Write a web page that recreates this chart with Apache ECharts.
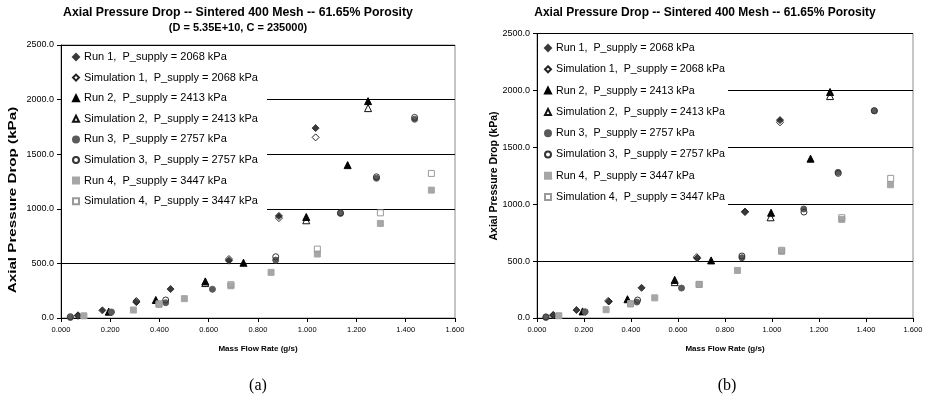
<!DOCTYPE html>
<html><head><meta charset="utf-8">
<script src="https://cdn.jsdelivr.net/npm/echarts@6/dist/echarts.min.js"></script>
<style>html,body{margin:0;padding:0;background:#fff}#c{width:926px;height:401px}</style>
</head><body><div id="c"></div>
<script>
// ---- data (mass flow rate g/s, axial pressure drop kPa) ----
const seriesNames = [
  'Run 1,  P_supply = 2068 kPa','Simulation 1,  P_supply = 2068 kPa',
  'Run 2,  P_supply = 2413 kPa','Simulation 2,  P_supply = 2413 kPa',
  'Run 3,  P_supply = 2757 kPa','Simulation 3,  P_supply = 2757 kPa',
  'Run 4,  P_supply = 3447 kPa','Simulation 4,  P_supply = 3447 kPa'
];
const run1 = [[0.069,25],[0.168,70],[0.306,145],[0.445,265],[0.682,525],[0.885,935],[1.034,1739]];
const run2 = [[0.194,58],[0.385,165],[0.586,335],[0.741,506],[0.996,925],[1.164,1400],[1.247,1986]];
const run3 = [[0.038,5],[0.205,55],[0.425,140],[0.615,263],[0.872,530],[1.135,958],[1.281,1280],[1.436,1820]];
const run4 = [[0.093,20],[0.294,73],[0.398,125],[0.501,177],[0.690,295],[0.853,418],[1.041,586],[1.297,866],[1.504,1171]];
// panel (a) simulations
const sim1A = [[0.069,20],[0.306,155],[0.682,540],[0.885,915],[1.034,1654]];
const sim2A = [[0.586,320],[0.996,895],[1.247,1922]];
const sim3A = [[0.038,12],[0.425,165],[0.872,561],[1.135,963],[1.281,1293],[1.436,1837]];
const sim4A = [[0.398,130],[0.690,305],[1.041,631],[1.297,963],[1.504,1324]];
// panel (b) simulations
const sim1B = [[0.069,26],[0.303,150],[0.680,535],[0.885,931],[1.034,1720]];
const sim2B = [[0.586,315],[0.994,885],[1.247,1950]];
const sim3B = [[0.038,10],[0.428,158],[0.872,545],[1.136,931],[1.282,1271],[1.435,1822]];
const sim4B = [[0.398,125],[0.690,295],[1.041,595],[1.297,881],[1.505,1227]];
// axes
const xMin = 0, xMax = 1.6, xStep = 0.2;
const yMin = 0, yMax = 2500, yStep = 500;
const titleA = ['Axial Pressure Drop -- Sintered 400 Mesh -- 61.65% Porosity','(D = 5.35E+10, C = 235000)'];
const titleB = 'Axial Pressure Drop -- Sintered 400 Mesh -- 61.65% Porosity';
const xName = 'Mass Flow Rate (g/s)';
const yName = 'Axial Pressure Drop (kPa)';
const panelLabels = ['(a)','(b)'];

const FONT = '"Liberation Sans", Arial, sans-serif';
const styles = [
  {symbol:'diamond', size:7, fill:'#3a3a3a', border:'#3a3a3a'},
  {symbol:'diamond', size:7, fill:'rgba(0,0,0,0)', border:'#222'},
  {symbol:'triangle', size:7, fill:'#000', border:'#000'},
  {symbol:'triangle', size:7, fill:'rgba(0,0,0,0)', border:'#111'},
  {symbol:'circle', size:6, fill:'#5a5a5a', border:'#5a5a5a'},
  {symbol:'circle', size:6, fill:'rgba(0,0,0,0)', border:'#333'},
  {symbol:'rect', size:6, fill:'#a6a6a6', border:'#a6a6a6'},
  {symbol:'rect', size:6, fill:'rgba(0,0,0,0)', border:'#9a9a9a'}
];
const dataA = [run1, sim1A, run2, sim2A, run3, sim3A, run4, sim4A];
const dataB = [run1, sim1B, run2, sim2B, run3, sim3B, run4, sim4B];

function textW(t, font){
  const c = document.createElement('canvas').getContext('2d');
  c.font = font; return c.measureText(t).width;
}

const panels = [
  {grid:{left:61, top:45, width:394, height:273}, data:dataA, legendFont:11, legendStep:20.6,
   legendItemW:6, legendPadL:10, legendBoxRight:266, legendTop:46, legendPadT:5, legendPadB:13,
   yName:{x:13, y:200, size:11, scale:1.38}},
  {grid:{left:537, top:33.5, width:376, height:284.5}, data:dataB, legendFont:10.7, legendStep:21.3,
   legendItemW:6, legendPadL:6, legendBoxRight:727, legendTop:34.5, legendPadT:7.5, legendPadB:12,
   yName:{x:494, y:176, size:10.5, scale:1}}
];

const option = {
  animation:false,
  backgroundColor:'#fff',
  grid:[], xAxis:[], yAxis:[], series:[], legend:[], graphic:[]
};

panels.forEach((p,i)=>{
  option.grid.push(Object.assign({show:true, borderColor:'#8c8c8c', borderWidth:1, backgroundColor:'#fff', containLabel:false}, p.grid));
  option.xAxis.push({
    type:'value', gridIndex:i, min:xMin, max:xMax, interval:xStep,
    name:xName, nameLocation:'middle', nameGap:27,
    nameTextStyle:{fontFamily:FONT, fontWeight:'bold', fontSize:8, color:'#000'},
    axisLine:{show:true, onZero:false, lineStyle:{color:'#000', width:1}},
    axisTick:{show:true, inside:false, length:4, lineStyle:{color:'#000'}},
    axisLabel:{fontFamily:FONT, fontSize:7.5, color:'#000', margin:8, formatter:v=>v.toFixed(3), showMaxLabel:true, showMinLabel:true},
    splitLine:{show:false}
  });
  option.yAxis.push({
    type:'value', gridIndex:i, min:yMin, max:yMax, interval:yStep,
    axisLine:{show:true, onZero:false, lineStyle:{color:'#000', width:1}},
    axisTick:{show:true, inside:false, length:4, lineStyle:{color:'#000'}},
    axisLabel:{fontFamily:FONT, fontSize:9, color:'#000', margin:7, formatter:v=>v.toFixed(1)},
    splitLine:{show:true, lineStyle:{color:'#000', width:1}}
  });
  const lf = p.legendFont + 'px ' + FONT;
  const maxW = Math.max(...seriesNames.map(n=>textW(n, lf)));
  const contentRight = p.grid.left + 1 + p.legendPadL + p.legendItemW + 5 + maxW;
  const padR = Math.max(2, p.legendBoxRight - contentRight);
  option.legend.push({
    orient:'vertical', left:p.grid.left + 1, top:p.legendTop,
    padding:[p.legendPadT, padR, p.legendPadB, p.legendPadL],
    backgroundColor:'#fff', borderWidth:0,
    itemWidth:p.legendItemW, itemHeight:p.legendItemW, itemGap:p.legendStep - 12,
    textStyle:{fontFamily:FONT, fontSize:p.legendFont, color:'#000', lineHeight:12},
    data:seriesNames.map(n=>({name:n})),
    z:5, selectedMode:false
  });
  p.data.forEach((d,k)=>{
    const s = styles[k];
    option.series.push({
      type:'scatter', name:seriesNames[k], xAxisIndex:i, yAxisIndex:i,
      symbol:s.symbol, symbolSize:s.size, data:d,
      itemStyle:{color:s.fill, borderColor:s.border, borderWidth:1, opacity:1},
      emphasis:{disabled:true}, z:3
    });
  });
  option.graphic.push({type:'text', x:p.yName.x, y:p.yName.y, rotation:Math.PI/2, scaleX:p.yName.scale,
    style:{text:yName, font:'bold '+p.yName.size+'px '+FONT, fill:'#000', textAlign:'center', textVerticalAlign:'middle'}});
});

// titles and panel labels
option.graphic.push(
  {type:'text', x:238, y:13, style:{text:titleA[0], font:'bold 12.3px '+FONT, fill:'#000', textAlign:'center', textVerticalAlign:'middle'}},
  {type:'text', x:238, y:28, style:{text:titleA[1], font:'bold 11px '+FONT, fill:'#000', textAlign:'center', textVerticalAlign:'middle'}},
  {type:'text', x:705, y:13, style:{text:titleB, font:'bold 12px '+FONT, fill:'#000', textAlign:'center', textVerticalAlign:'middle'}},
  {type:'text', x:258, y:386, style:{text:panelLabels[0], font:'16px "Liberation Serif", "Times New Roman", serif', fill:'#000', textAlign:'center', textVerticalAlign:'middle'}},
  {type:'text', x:727, y:386, style:{text:panelLabels[1], font:'16px "Liberation Serif", "Times New Roman", serif', fill:'#000', textAlign:'center', textVerticalAlign:'middle'}}
);

const chart = echarts.init(document.getElementById('c'), null, {renderer:'canvas'});
chart.setOption(option);
</script></body></html>
